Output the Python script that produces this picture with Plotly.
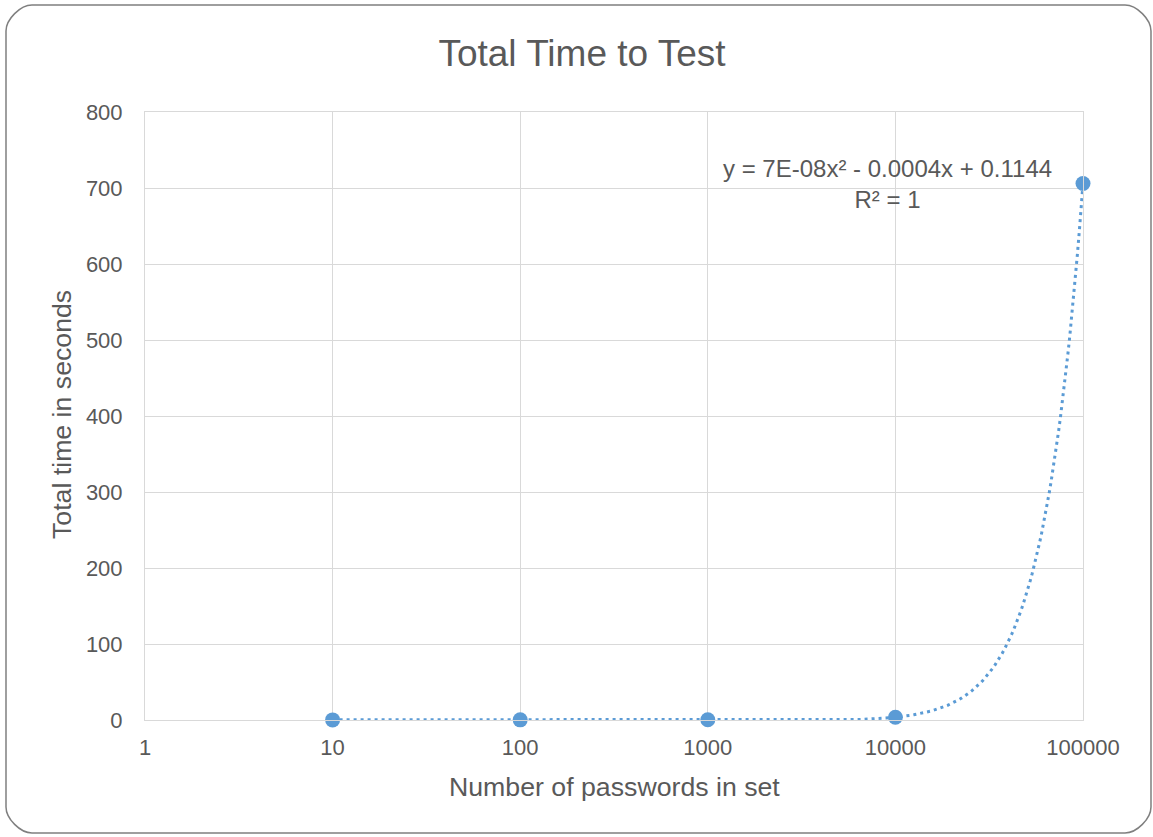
import numpy as np
import plotly.graph_objects as go

# Benchmark results
set_sizes = [10, 100, 1000, 10000, 100000]
total_seconds = [0.15, 0.2, 0.3, 3.6, 706]
x_tick_vals = [1, 10, 100, 1000, 10000, 100000]
x_tick_text = ["1", "10", "100", "1000", "10000", "100000"]
y_tick_vals = [0, 100, 200, 300, 400, 500, 600, 700, 800]

W, H = 1153, 837
ML, MR, MT, MB = 145, 70, 112, 117
PW, PH = W - ML - MR, H - MT - MB

TEXT = "#595959"
GRID = "#d9d9d9"
BLUE = "#5b9bd5"
FONT = "Liberation Sans, Arial, sans-serif"

# Second-order polynomial trendline fitted to the measurements
coef = np.polyfit(set_sizes, total_seconds, 2)
trend_x = np.logspace(np.log10(set_sizes[0]), np.log10(set_sizes[-1]), 400)
trend_y = np.polyval(coef, trend_x)

fig = go.Figure()
fig.add_trace(go.Scatter(
    x=trend_x, y=trend_y, mode="lines",
    line=dict(color=BLUE, width=3, dash="3px,4px"),
    hoverinfo="skip", showlegend=False, cliponaxis=False,
))
fig.add_trace(go.Scatter(
    x=set_sizes, y=total_seconds, mode="markers",
    marker=dict(color=BLUE, size=15),
    showlegend=False, cliponaxis=False,
))


def px_to_paper(px, py):
    return (px - ML) / PW, (H - MB - py) / PH


# Rounded outer frame of the chart
x0, y0, x1, y1, r = 6, 5, 1151, 833, 26
k = 0.45 * r
pts = [
    ("M", [(x0 + r, y0)]),
    ("L", [(x1 - r, y0)]),
    ("C", [(x1 - r + k, y0), (x1, y0 + r - k), (x1, y0 + r)]),
    ("L", [(x1, y1 - r)]),
    ("C", [(x1, y1 - r + k), (x1 - r + k, y1), (x1 - r, y1)]),
    ("L", [(x0 + r, y1)]),
    ("C", [(x0 + r - k, y1), (x0, y1 - r + k), (x0, y1 - r)]),
    ("L", [(x0, y0 + r)]),
    ("C", [(x0, y0 + r - k), (x0 + r - k, y0), (x0 + r, y0)]),
]
path = ""
for cmd, plist in pts:
    coords = " ".join("%.5f,%.5f" % px_to_paper(px, py) for px, py in plist)
    path += f"{cmd}{coords} "
path += "Z"
fig.add_shape(type="path", path=path, xref="paper", yref="paper",
              line=dict(color="#7f7f7f", width=1.5), layer="above")

fig.update_layout(
    width=W, height=H,
    margin=dict(l=ML, r=MR, t=MT, b=MB),
    paper_bgcolor="white", plot_bgcolor="white",
    font=dict(family=FONT, color=TEXT),
    title=dict(text="Total Time to Test", x=582 / W, y=1 - 53 / H,
               xanchor="center", yanchor="middle",
               font=dict(size=37, color=TEXT, family=FONT)),
    xaxis=dict(
        type="log", range=[0, 5],
        tickvals=x_tick_vals, ticktext=x_tick_text,
        showgrid=True, gridcolor=GRID, gridwidth=1,
        showline=True, linecolor=GRID, linewidth=1, mirror=True,
        ticks="", ticklabelstandoff=8,
        tickfont=dict(size=22, color=TEXT),
    ),
    yaxis=dict(
        range=[0, 800], tickvals=y_tick_vals,
        showgrid=True, gridcolor=GRID, gridwidth=1,
        zeroline=False,
        showline=True, linecolor=GRID, linewidth=1, mirror=True,
        ticks="", ticklabelstandoff=17,
        tickfont=dict(size=22, color=TEXT),
    ),
)

fig.add_annotation(text="Number of passwords in set", xref="paper", yref="paper",
                   x=(614 - ML) / PW, y=(H - MB - 787) / PH,
                   xanchor="center", yanchor="middle", showarrow=False,
                   font=dict(size=26.7, color=TEXT))
fig.add_annotation(text="Total time in seconds", xref="paper", yref="paper",
                   x=(62 - ML) / PW, y=(H - MB - 415) / PH, textangle=-90,
                   xanchor="center", yanchor="middle", showarrow=False,
                   font=dict(size=26.7, color=TEXT))
fig.add_annotation(text="y = 7E-08x² - 0.0004x + 0.1144<br>R² = 1",
                   xref="paper", yref="paper",
                   x=(887 - ML) / PW, y=(H - MB - 184) / PH,
                   xanchor="center", yanchor="middle", align="center",
                   showarrow=False, font=dict(size=24, color=TEXT))

fig.write_html("out.html")
